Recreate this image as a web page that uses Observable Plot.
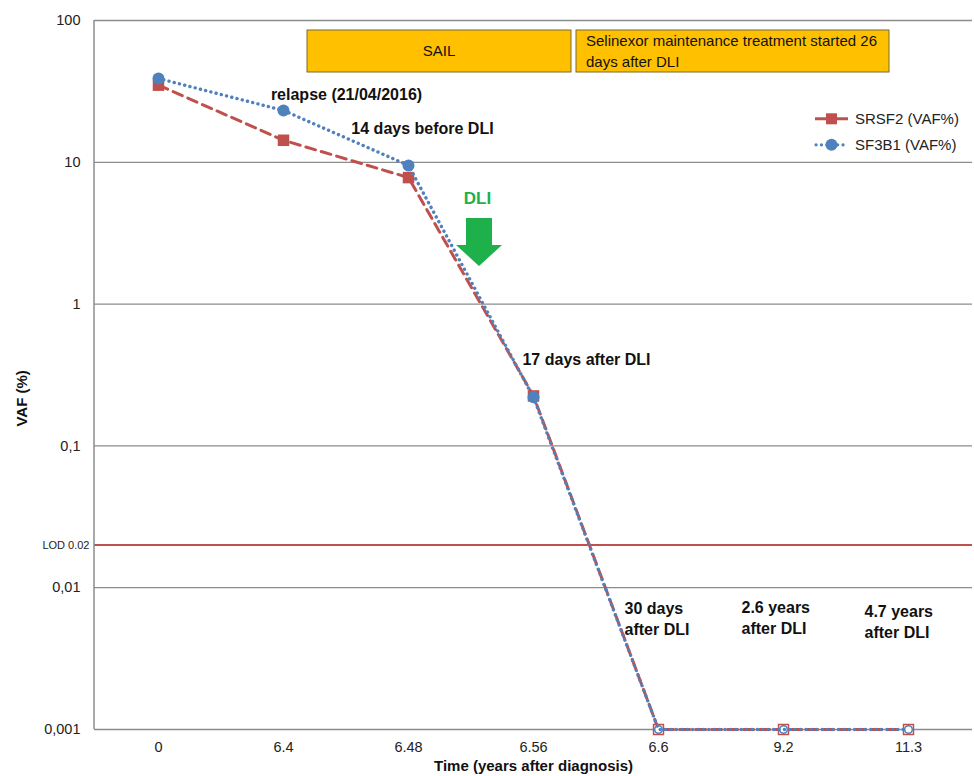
<!DOCTYPE html>
<html><head><meta charset="utf-8">
<script src="https://cdn.jsdelivr.net/npm/d3@7"></script>
<script src="https://cdn.jsdelivr.net/npm/@observablehq/plot@0.6"></script>
<style>body{margin:0;background:#fff;} svg{font-family:"Liberation Sans",Arial,sans-serif;}</style>
</head><body><div id="chart"></div>
<script>
// ---- data ----
const xLabels = ["0", "6.4", "6.48", "6.56", "6.6", "9.2", "11.3"];
const srsf2 = [35, 14.3, 7.8, 0.225, 0.001, 0.001, 0.001];
const sf3b1 = [39, 23.2, 9.5, 0.22, 0.001, 0.001, 0.001];
const belowDetection = [false, false, false, false, true, true, true];
const yTicks = [100, 10, 1, 0.1, 0.01, 0.001];
const yTickLabels = ["100", "10", "1", "0,1", "0,01", "0,001"];
const lod = 0.02;
const lodLabel = "LOD 0.02";
const seriesNames = ["SRSF2 (VAF%)", "SF3B1 (VAF%)"];
const xTitle = "Time (years after diagnosis)";
const yTitle = "VAF (%)";
const notes = [
  {x: "6.4", y: 31, dx: 63, anchor: "middle", text: "relapse (21/04/2016)", color: "#111"},
  {x: "6.48", y: 17.6, dx: 14, anchor: "middle", text: "14 days before DLI", color: "#111"},
  {x: "6.48", y: 5.74, dx: 69, anchor: "middle", text: "DLI", color: "#1DB04B"},
  {x: "6.56", y: 0.413, dx: 53, anchor: "middle", text: "17 days after DLI", color: "#111"},
  {x: "6.6", y: 0.00617, dx: -34, anchor: "start", text: "30 days\nafter DLI", color: "#111"},
  {x: "9.2", y: 0.00627, dx: -42, anchor: "start", text: "2.6 years\nafter DLI", color: "#111"},
  {x: "11.3", y: 0.00587, dx: -44, anchor: "start", text: "4.7 years\nafter DLI", color: "#111"}
];
const boxTexts = ["SAIL", "Selinexor maintenance treatment started 26\ndays after DLI"];

const rows = xLabels.map((x, i) => ({x, srsf2: srsf2[i], sf3b1: sf3b1[i], nd: belowDetection[i]}));
const RED = "#C0504D", BLUE = "#4F81BD", GRID = "#8c8c8c";

function annotate(index, scales, values, dimensions) {
  const sx = scales.x, sy = scales.y;
  const g = d3.create("svg:g");
  const {marginLeft, marginTop, marginBottom, width, height} = dimensions;
  // left axis line
  g.append("line").attr("x1", marginLeft).attr("x2", marginLeft)
    .attr("y1", marginTop).attr("y2", height - marginBottom)
    .attr("stroke", GRID).attr("stroke-width", 1.5);
  // y title
  g.append("text")
    .attr("transform", `translate(${marginLeft - 72},${sy(0.1) - 47}) rotate(-90)`)
    .attr("text-anchor", "middle").attr("dy", "0.35em")
    .attr("font-size", 15).attr("font-weight", "bold").attr("fill", "#111").text(yTitle);
  // treatment boxes
  const top = marginTop + 10, bh = 42;
  const boxes = [
    {x0: sx("6.4") + 24, x1: sx("6.56") + 38, text: boxTexts[0], center: true},
    {x0: sx("6.56") + 43, x1: sx("9.2") + 106, text: boxTexts[1], center: false}
  ];
  for (const b of boxes) {
    g.append("rect").attr("x", b.x0).attr("y", top).attr("width", b.x1 - b.x0).attr("height", bh)
      .attr("fill", "#FFC000").attr("stroke", "#7d6a2c").attr("stroke-width", 1);
    const lines = b.text.split("\n");
    const t = g.append("text").attr("font-size", 15).attr("fill", "#111")
      .attr("text-anchor", b.center ? "middle" : "start");
    lines.forEach((ln, i) => {
      t.append("tspan").attr("x", b.center ? (b.x0 + b.x1) / 2 : b.x0 + 10)
        .attr("y", top + bh / 2 + (i - (lines.length - 1) / 2) * 21)
        .attr("dy", "0.35em").text(ln);
    });
  }
  // DLI arrow
  const cx = sx("6.48") + 71, at = sy(5.74) + 22;
  const pts = [[cx - 13, at], [cx + 13, at], [cx + 13, at + 27], [cx + 23, at + 27], [cx, at + 48], [cx - 23, at + 27], [cx - 13, at + 27]];
  g.append("polygon").attr("points", pts.map(p => p.join(",")).join(" ")).attr("fill", "#1DB04B");
  // legend
  const lx = width - 159, ly = [sy(10) - 43, sy(10) - 17];
  g.append("line").attr("x1", lx).attr("x2", lx + 33).attr("y1", ly[0]).attr("y2", ly[0])
    .attr("stroke", RED).attr("stroke-width", 3);
  g.append("rect").attr("x", lx + 16.5 - 5.5).attr("y", ly[0] - 5.5).attr("width", 11).attr("height", 11).attr("fill", RED);
  g.append("line").attr("x1", lx + 1).attr("x2", lx + 33).attr("y1", ly[1]).attr("y2", ly[1])
    .attr("stroke", BLUE).attr("stroke-width", 3.2).attr("stroke-dasharray", "0.1,5.3").attr("stroke-linecap", "round");
  g.append("circle").attr("cx", lx + 16.5).attr("cy", ly[1]).attr("r", 6).attr("fill", BLUE);
  seriesNames.forEach((n, i) => {
    g.append("text").attr("x", lx + 40).attr("y", ly[i]).attr("dy", "0.35em")
      .attr("text-anchor", "start")
      .attr("font-size", 15).attr("fill", "#222").text(n);
  });
  return g.node();
}

const chart = Plot.plot({
  width: 974, height: 776,
  marginLeft: 94, marginRight: 2, marginTop: 20, marginBottom: 47,
  x: {type: "point", domain: xLabels, padding: 0.5},
  y: {type: "log", domain: [0.001, 100]},
  style: {fontFamily: "Liberation Sans, Arial, sans-serif", fontSize: "14px", color: "#222", background: "#fff"},
  marks: [
    Plot.ruleY(yTicks, {stroke: GRID, strokeWidth: 1.3}),
    Plot.ruleY([lod], {stroke: RED, strokeWidth: 2}),
    Plot.axisY({ticks: yTicks, tickSize: 0, tickPadding: 14, fontSize: 14.5, label: null,
      tickFormat: d => yTickLabels[yTicks.findIndex(t => Math.abs(Math.log10(t) - Math.log10(d)) < 1e-6)]}),
    Plot.axisX({tickSize: 0, tickPadding: 12, fontSize: 14.5, label: null}),
    Plot.text([lod], {y: d => d, frameAnchor: "left", text: () => lodLabel, textAnchor: "end", dx: -5, fontSize: 11, fill: "#222"}),
    Plot.text([xTitle], {frameAnchor: "bottom", text: d => d, dy: 41, fontWeight: "bold", fontSize: 15, fill: "#111"}),
    Plot.line(rows, {x: "x", y: "srsf2", stroke: RED, strokeWidth: 3, strokeDasharray: "10,6"}),
    Plot.dot(rows.filter(d => !d.nd), {x: "x", y: "srsf2", symbol: "square", r: 6.5, fill: RED}),
    Plot.dot(rows.filter(d => d.nd), {x: "x", y: "srsf2", symbol: "square", r: 5.6, fill: "white", stroke: RED, strokeWidth: 1.5}),
    Plot.line(rows, {x: "x", y: "sf3b1", stroke: BLUE, strokeWidth: 3.4, strokeDasharray: "0.1,5.3", strokeLinecap: "round"}),
    Plot.dot(rows.filter(d => !d.nd), {x: "x", y: "sf3b1", r: 6, fill: BLUE}),
    Plot.dot(rows.filter(d => d.nd), {x: "x", y: "sf3b1", r: 3.8, fill: "none", stroke: BLUE, strokeWidth: 1.5}),
    ...notes.map(n => Plot.text([n], {x: "x", y: "y", text: "text", dx: n.dx, textAnchor: n.anchor,
      fontWeight: "bold", fontSize: n.text === "DLI" ? 17 : 16, lineHeight: 1.35, fill: n.color})),
    annotate
  ]
});
document.getElementById("chart").appendChild(chart);
</script>
</body></html>
